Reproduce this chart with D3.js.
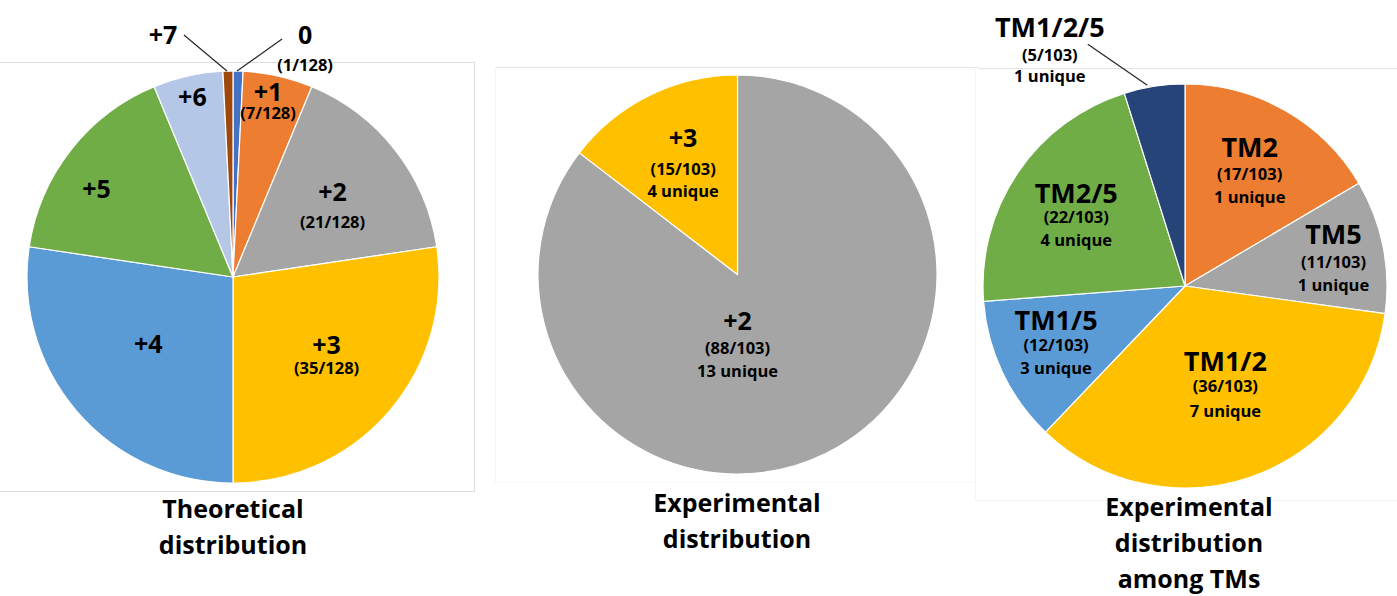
<!DOCTYPE html>
<html>
<head>
<meta charset="utf-8">
<script src="https://cdn.jsdelivr.net/npm/d3@7"></script>
<style>
  html, body { margin: 0; padding: 0; background: #fff; }
  svg { display: block; }
  text { font-family: "Open Sans", "Noto Sans", sans-serif; font-weight: 700; fill: #000; }
</style>
</head>
<body>
<svg id="chart" width="1397" height="596"></svg>
<script>
// ---- data ----
const theoLabels = ["0", "+1", "+2", "+3", "+4", "+5", "+6", "+7"];
const theoCounts = [1, 7, 21, 35, 35, 21, 7, 1];
const theoTotal = 128;
const theoShowFraction = [true, true, true, true, false, false, false, false];

const expLabels = ["+2", "+3"];
const expCounts = [88, 15];
const expUnique = [13, 4];
const expTotal = 103;

const tmLabels = ["TM2", "TM5", "TM1/2", "TM1/5", "TM2/5", "TM1/2/5"];
const tmCounts = [17, 11, 36, 12, 22, 5];
const tmUnique = [1, 1, 7, 3, 4, 1];
const tmTotal = 103;

const titles = [
  ["Theoretical", "distribution"],
  ["Experimental", "distribution"],
  ["Experimental", "distribution", "among TMs"]
];

// ---- styles ----
const theoColors = ["#4472C4", "#ED7D31", "#A5A5A5", "#FFC000", "#5B9BD5", "#70AD47", "#B4C7E7", "#9E480E"];
const expColors = ["#A5A5A5", "#FFC000"];
const tmColors = ["#ED7D31", "#A5A5A5", "#FFC000", "#5B9BD5", "#70AD47", "#264478"];

const svg = d3.select("#chart");

// chart-area frames: each edge with its own tone (some edges are barely visible)
const frameEdges = [
  // theoretical
  { x1: -1, y1: 62, x2: 474, y2: 62, c: "#dcdcdc" },
  { x1: 474, y1: 62, x2: 474, y2: 491, c: "#dcdcdc" },
  { x1: -1, y1: 491, x2: 474, y2: 491, c: "#dcdcdc" },
  // experimental
  { x1: 495, y1: 67, x2: 978, y2: 67, c: "#e2e2e2" },
  { x1: 495, y1: 67, x2: 495, y2: 482, c: "#f5f5f5" },
  { x1: 495, y1: 482, x2: 978, y2: 482, c: "#f7f7f7" },
  // among TMs
  { x1: 978, y1: 68, x2: 1397, y2: 68, c: "#e2e2e2" },
  { x1: 975, y1: 68, x2: 975, y2: 500, c: "#f5f5f5" },
  { x1: 975, y1: 500, x2: 1397, y2: 500, c: "#f3f3f3" }
];
svg.selectAll("line.frame").data(frameEdges).join("line")
  .attr("class", "frame")
  .attr("x1", d => d.x1 + 0.5).attr("y1", d => d.y1 + 0.5)
  .attr("x2", d => d.x2 + 0.5).attr("y2", d => d.y2 + 0.5)
  .attr("stroke", d => d.c).attr("stroke-width", 1);

// label placement: inside labels are [angle offset from slice mid (deg), radius fraction]
// outside labels carry leader line + text offsets from the slice's outer midpoint
const pies = [
  {
    cx: 233, cy: 277, r: 206,
    counts: theoCounts, colors: theoColors,
    lines: (i) => theoShowFraction[i]
      ? [theoLabels[i], `(${theoCounts[i]}/${theoTotal})`]
      : [theoLabels[i]],
    big: 25, small: 16.5,
    place: [
      { out: true, tx: 67, ty: -37, sx: -1, sy: 0, lx: 44, ly: -32, gaps: [30] },
      { da: -2, f: 0.92, gaps: [22] },
      { da: -3, f: 0.64, gaps: [31] },
      { da: -5, f: 0.56, gaps: [23] },
      { da: 3, f: 0.52 },
      { da: -5, f: 0.79 },
      { da: 0, f: 0.90 },
      { out: true, tx: -65, ty: -37, sx: -1, sy: 0, lx: -44, ly: -36 }
    ],
    titleX: 233, titleY: 508
  },
  {
    cx: 737.5, cy: 274.5, r: 199.5,
    counts: expCounts, colors: expColors,
    lines: (i) => [expLabels[i], `(${expCounts[i]}/${expTotal})`, `${expUnique[i]} unique`],
    big: 25, small: 16.5,
    place: [
      { da: 26.2, f: 0.23, gaps: [27, 23] },
      { da: 4.6, f: 0.74, gaps: [31, 22] }
    ],
    titleX: 737, titleY: 502
  },
  {
    cx: 1185, cy: 286, r: 202,
    counts: tmCounts, colors: tmColors,
    lines: (i) => [tmLabels[i], `(${tmCounts[i]}/${tmTotal})`, `${tmUnique[i]} unique`],
    big: 27, small: 16.5,
    place: [
      { da: -4.8, f: 0.76, gaps: [27, 23] },
      { da: -8.2, f: 0.78, gaps: [28, 23] },
      { da: -9.2, f: 0.42, gaps: [25, 25] },
      { da: 10.6, f: 0.66, gaps: [25, 23] },
      { da: 6.6, f: 0.71, gaps: [24, 23] },
      { out: true, tx: -104.5, ty: -60, sx: -7, sy: -1, lx: -66.5, ly: -42, gaps: [28, 21] }
    ],
    titleX: 1189, titleY: 506
  }
];

const pieGen = d3.pie().sort(null).value(d => d);

pies.forEach((p, pi) => {
  const g = svg.append("g").attr("transform", `translate(${p.cx},${p.cy})`);
  const arcs = pieGen(p.counts);
  const arc = d3.arc().innerRadius(0).outerRadius(p.r);

  g.selectAll("path.slice").data(arcs).join("path")
    .attr("class", "slice")
    .attr("d", arc)
    .attr("fill", (d, i) => p.colors[i])
    .attr("stroke", "#fff")
    .attr("stroke-width", 1.2)
    .attr("stroke-linejoin", "round");

  arcs.forEach((d, i) => {
    const pl = p.place[i];
    const mid = (d.startAngle + d.endAngle) / 2;
    const lines = p.lines(i);
    const gaps = pl.gaps || [];
    let ax, ay;
    if (pl.out) {
      const ox = Math.sin(mid) * p.r, oy = -Math.cos(mid) * p.r;
      g.append("line")
        .attr("x1", ox + pl.sx).attr("y1", oy + pl.sy)
        .attr("x2", ox + pl.lx).attr("y2", oy + pl.ly)
        .attr("stroke", "#262626").attr("stroke-width", 1.2);
      ax = ox + pl.tx; ay = oy + pl.ty;
    } else {
      const a = mid + pl.da * Math.PI / 180;
      ax = Math.sin(a) * p.r * pl.f;
      ay = -Math.cos(a) * p.r * pl.f;
    }
    let y = ay;
    lines.forEach((t, li) => {
      if (li > 0) y += gaps[li - 1];
      g.append("text")
        .attr("x", ax).attr("y", y)
        .attr("text-anchor", "middle")
        .attr("dominant-baseline", "central")
        .style("font-size", (li === 0 ? p.big : p.small) + "px")
        .text(t);
    });
  });

  svg.append("g").selectAll("text").data(titles[pi]).join("text")
    .attr("x", p.titleX)
    .attr("y", (t, k) => p.titleY + k * 36)
    .attr("text-anchor", "middle")
    .attr("dominant-baseline", "central")
    .style("font-size", "25px")
    .text(t => t);
});
</script>
</body>
</html>
